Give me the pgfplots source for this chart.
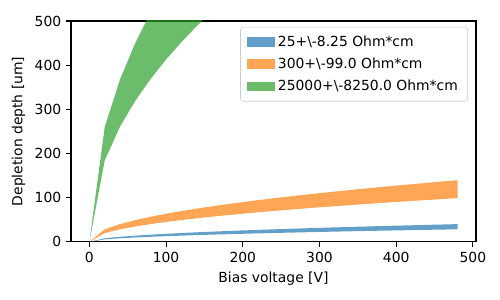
\documentclass[border=0pt]{standalone}
\usepackage{pgfplots}
\pgfplotsset{compat=1.18}
\usepackage{fontspec}
\setmainfont{DejaVu Sans}
\definecolor{tabblue}{HTML}{1F77B4}
\definecolor{taborange}{HTML}{FF7F0E}
\definecolor{tabgreen}{HTML}{2CA02C}
\begin{document}
\begin{tikzpicture}
\path[use as bounding box] (0,0) rectangle (360pt,216pt);
\begin{axis}[
  at={(51.1pt,41.8pt)}, anchor=south west,
  scale only axis, width=291.6pt, height=159.1pt,
  xmin=-24, xmax=504, ymin=0, ymax=500,
  xtick={0,100,200,300,400,500}, ytick={0,100,200,300,400,500},
  tick align=outside, major tick length=3.5pt,
  tick style={black, line width=0.8pt},
  axis line style={line width=0.8pt},
  xtick pos=bottom, ytick pos=left,
  /pgf/number format/assume math mode=true,
  ticklabel style={font=\fontsize{10}{12}\selectfont},
  label style={font=\fontsize{10}{12}\selectfont},
  xlabel={Bias voltage [V]}, ylabel={Depletion depth [um]},
  legend style={at={(0.98,0.973)}, anchor=north east, draw=black!20, rounded corners=2pt,
    fill=white, fill opacity=0.8, text opacity=1, font=\fontsize{10}{12}\selectfont,
    inner xsep=5pt, inner ysep=4pt, row sep=3pt},
  legend cell align=left,
  legend image code/.code={\fill[#1, sharp corners] (0pt,-3.5pt) rectangle (20pt,3.5pt);},
]
\addplot[fill=tabblue, fill opacity=0.7, draw=none] coordinates {
(0,0)(20,8.226)(40,11.634)(60,14.248)(80,16.452)(100,18.394)(120,20.150)(140,21.764)(160,23.267)(180,24.678)(200,26.013)(220,27.283)(240,28.496)(260,29.659)(280,30.779)(300,31.860)(320,32.905)(340,33.917)(360,34.901)(380,35.857)(400,36.788)(420,37.697)(440,38.584)(460,39.451)(480,40.300)
(480,28.604)(460,28.002)(440,27.386)(420,26.757)(400,26.112)(380,25.451)(360,24.772)(340,24.074)(320,23.355)(300,22.614)(280,21.847)(260,21.052)(240,20.226)(220,19.365)(200,18.464)(180,17.516)(160,16.515)(140,15.448)(120,14.302)(100,13.056)(80,11.678)(60,10.113)(40,8.257)(20,5.839)(0,0)} --cycle;
\addlegendentry{25+\textbackslash-8.25 Ohm*cm}
\addplot[fill=taborange, fill opacity=0.7, draw=none] coordinates {
(0,0)(20,28.496)(40,40.300)(60,49.358)(80,56.993)(100,63.720)(120,69.802)(140,75.396)(160,80.600)(180,85.489)(200,90.114)(220,94.512)(240,98.714)(260,102.745)(280,106.624)(300,110.366)(320,113.986)(340,117.494)(360,120.901)(380,124.213)(400,127.440)(420,130.587)(440,133.662)(460,136.664)(480,139.604)
(480,99.085)(460,96.999)(440,94.867)(420,92.686)(400,90.452)(380,88.162)(360,85.810)(340,83.393)(320,80.903)(300,78.334)(280,75.678)(260,72.925)(240,70.063)(220,67.081)(200,63.959)(180,60.677)(160,57.207)(140,53.512)(120,49.543)(100,45.226)(80,40.452)(60,35.032)(40,28.604)(20,20.225)(0,0)} --cycle;
\addlegendentry{300+\textbackslash-99.0 Ohm*cm}
\addplot[fill=tabgreen, fill opacity=0.7, draw=none] coordinates {
(0,0)(20,260.13)(40,367.89)(60,450.57)(80,520.27)(100,581.68)(120,637.20)(140,688.26)(160,735.77)(180,780.40)(200,822.62)
(200,583.87)(180,553.91)(160,522.23)(140,488.50)(120,452.27)(100,412.86)(80,369.28)(60,319.80)(40,261.12)(20,184.63)(0,0)} --cycle;
\addlegendentry{25000+\textbackslash-8250.0 Ohm*cm}
\end{axis}
\end{tikzpicture}
\end{document}
